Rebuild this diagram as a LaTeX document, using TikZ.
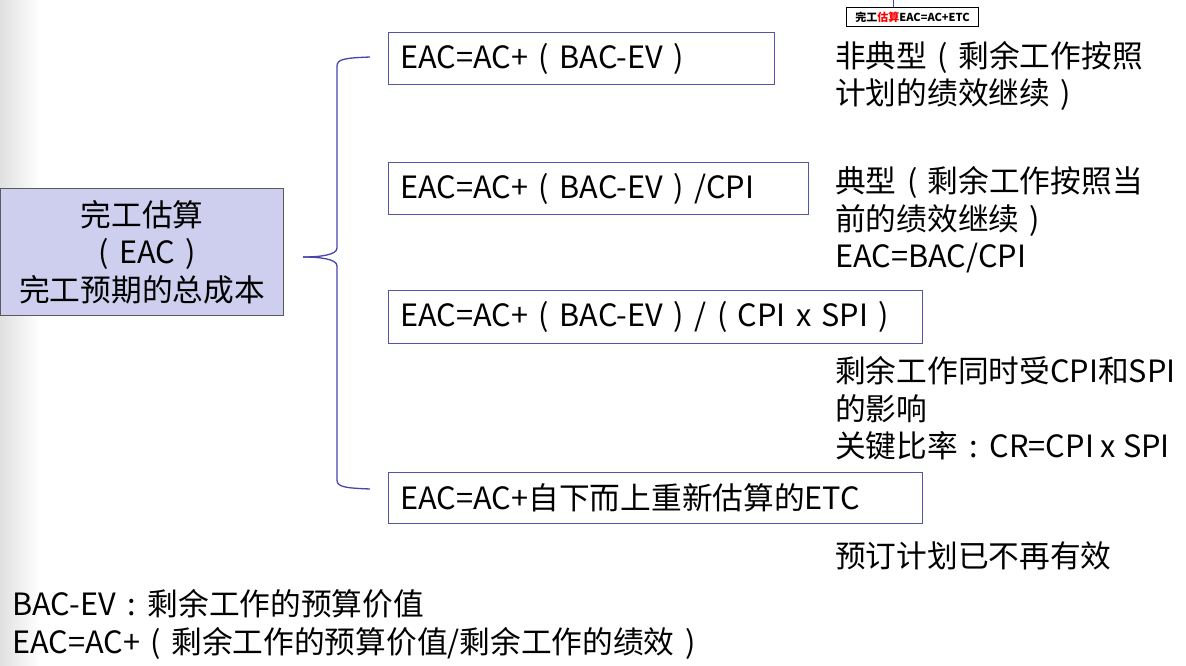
\documentclass[tikz,border=0pt]{standalone}
\usepackage{fontspec}
\setmainfont{Noto Sans CJK SC}
\definecolor{boxblue}{RGB}{84,84,168}
\definecolor{bracecol}{RGB}{70,70,170}
\definecolor{lav}{RGB}{206,206,238}
\definecolor{edgegray}{RGB}{90,90,90}
\newcommand\lpar{\hspace{0.34em}(\hspace{0.34em}}
\newcommand\rpar{\hspace{0.34em})\hspace{0.34em}}
\newcommand\fcolon{\hspace{0.38em}:\hspace{0.38em}}
\tikzset{
  big/.style={font=\fontsize{30.7}{37.5}\selectfont},
  fbox/.style={big, draw=boxblue, line width=1.1pt, fill=white, rectangle,
     anchor=north west, align=left, inner xsep=12pt, inner ysep=0pt},
  note/.style={big, anchor=west, align=left, inner sep=0pt},
  bracel/.style={draw=bracecol, line width=1.3pt},
}
\begin{document}
\begin{tikzpicture}[x=1pt,y=-1pt]
\useasboundingbox (0,0) rectangle (1186,666);
\shade[left color=black!12, right color=white] (0,0) rectangle (40,666);
% main node
\node[big, draw=edgegray, line width=1pt, fill=lav, minimum width=283pt, minimum height=127pt,
      anchor=north west, align=center, inner sep=0pt] (eac) at (0,188)
      {完工估算\\\lpar EAC\rpar\\完工预期的总成本};
% formula boxes
\node[fbox, text width=362pt, minimum height=52pt] (b1) at (388,32) {EAC=AC+\lpar BAC-EV\rpar};
\node[fbox, text width=396pt, minimum height=52pt] (b2) at (388,162) {EAC=AC+\lpar BAC-EV\rpar/CPI};
\node[fbox, text width=510pt, minimum height=53pt] (b3) at (388,290) {EAC=AC+\lpar BAC-EV\rpar/\lpar CPI x SPI\rpar};
\node[fbox, text width=510pt, minimum height=51pt] (b4) at (388,472) {EAC=AC+自下而上重新估算的ETC};
% brace
\coordinate (bt) at (370,57);
\coordinate (bm) at (303,257);
\coordinate (bb) at (370,489);
\draw[bracel] (bt) .. controls (345,58) and (337,59) .. (337,66)
  -- (337,248) .. controls (337,255) and (320,257) .. (bm);
\draw[bracel] (bm) .. controls (320,257) and (337,259) .. (337,266)
  -- (337,480) .. controls (337,487) and (345,488) .. (bb);
% notes
\node[note] (n1) at (835,76) {非典型\lpar 剩余工作按照\\计划的绩效继续\rpar};
\node[note] (n2) at (835,220) {典型\lpar 剩余工作按照当\\前的绩效继续\rpar\\EAC=BAC/CPI};
\node[note] (n3) at (835,408.5) {剩余工作同时受CPI和SPI\\的影响\\关键比率\fcolon CR=CPI x SPI};
\node[note] (n4) at (835,556) {预订计划已不再有效};
\node[note] (n5) at (12,624.5) {BAC-EV\fcolon 剩余工作的预算价值\\EAC=AC+\lpar 剩余工作的预算价值/剩余工作的绩效\rpar};
% small top box
\node[draw=black, line width=1pt, fill=white, anchor=north west, minimum width=132pt, minimum height=19pt,
      inner sep=1pt, font=\bfseries\fontsize{11}{13}\selectfont] (sm) at (846,7)
      {完工\textcolor{red}{估算}EAC=AC+ETC};
\coordinate (smtop) at (893,0);
\draw[bracecol, line width=1pt] (smtop) -- (smtop |- sm.north);
\end{tikzpicture}
\end{document}
